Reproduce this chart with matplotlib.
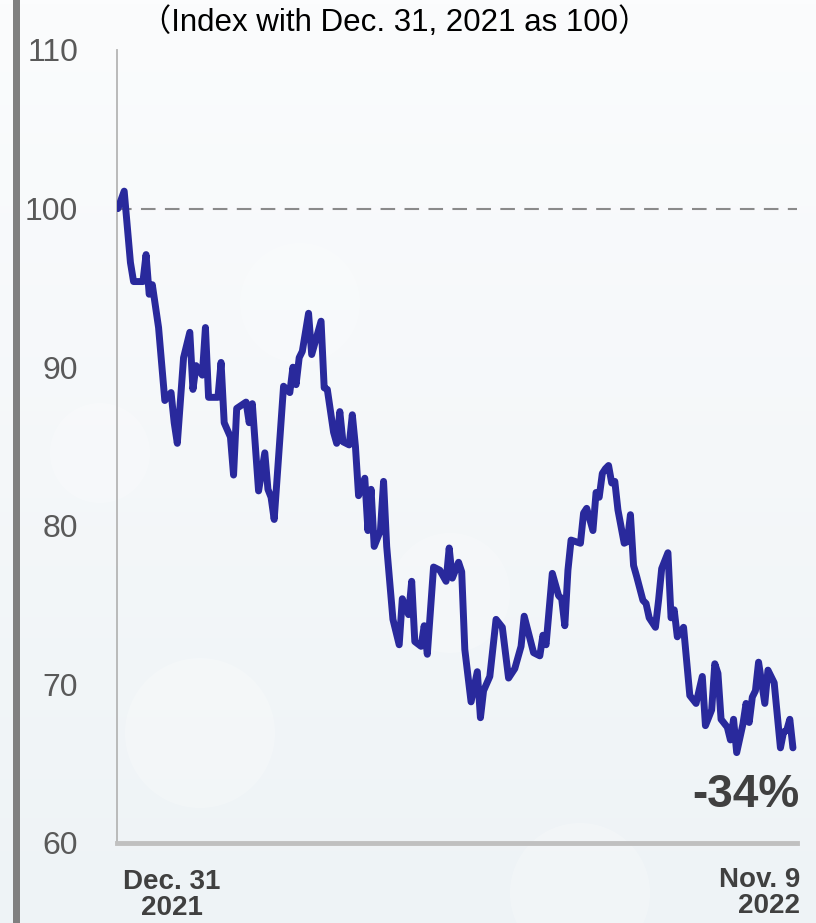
import matplotlib
matplotlib.use("Agg")
import matplotlib.pyplot as plt
import numpy as np
from matplotlib.patches import Circle

# trading days since Dec. 31, 2021 and index value (Dec. 31, 2021 = 100)
days = [0, 2, 4, 5, 8, 9, 10, 11, 13, 15, 17, 18, 19, 21, 23, 24, 25, 27, 28, 29,
        32, 33, 34, 36, 37, 38, 41, 42, 43, 45, 47, 48, 49, 50, 52, 53, 55, 56, 57, 58,
        59, 61, 62, 65, 66, 67, 69, 70, 71, 72, 74, 75, 76, 77, 79, 80, 81, 82, 84, 85,
        86, 88, 90, 91, 93, 94, 95, 97, 98, 99, 101, 103, 105, 106, 107, 109, 110, 111, 113, 115,
        116, 117, 119, 121, 123, 125, 127, 129, 130, 133, 135, 136, 137, 139, 141, 142, 143, 144, 145, 148,
        149, 150, 152, 153, 154, 155, 156, 157, 158, 159, 160, 162, 163, 164, 165, 166, 168, 169, 170, 172,
        173, 174, 176, 177, 178, 179, 181, 183, 185, 187, 188, 190, 191, 192, 193, 195, 196, 197, 198, 200,
        201, 202, 203, 204, 205, 207, 208, 209, 210, 212, 213, 214, 215, 216]
index_value = [100.0, 101.1, 96.6, 95.4, 95.4, 97.1, 94.6, 95.2, 92.5, 87.9, 88.4, 86.5, 85.2, 90.6, 92.2, 88.6, 90.1, 89.5, 92.5, 88.1,
               88.1, 90.3, 86.5, 85.6, 83.2, 87.4, 87.8, 86.5, 87.7, 82.2, 84.6, 82.3, 81.8, 80.4, 86.0, 88.8, 88.4, 90.0, 88.9, 90.6,
               91.0, 93.4, 90.8, 92.9, 88.7, 88.6, 85.9, 85.2, 87.2, 85.3, 85.1, 87.0, 85.0, 81.9, 83.0, 79.7, 82.3, 78.7, 79.7, 82.8,
               78.7, 74.1, 72.5, 75.4, 74.4, 76.5, 72.7, 72.4, 73.7, 71.9, 77.4, 77.2, 76.5, 78.6, 76.7, 77.7, 77.1, 72.2, 68.9, 70.8,
               67.9, 69.6, 70.5, 74.1, 73.6, 70.4, 71.0, 72.4, 74.3, 72.0, 71.8, 73.1, 72.5, 77.0, 75.6, 75.4, 73.7, 77.2, 79.1, 78.9,
               80.8, 81.1, 79.7, 82.1, 81.8, 83.3, 83.6, 83.8, 82.7, 82.8, 81.0, 78.9, 79.0, 80.7, 77.5, 76.8, 75.3, 75.1, 74.2, 73.6,
               75.3, 77.3, 78.3, 74.2, 74.7, 73.0, 73.6, 69.3, 68.8, 70.5, 67.4, 68.4, 71.3, 70.7, 67.8, 67.3, 66.5, 67.8, 65.7, 67.5,
               68.8, 67.6, 69.2, 69.6, 71.4, 68.8, 70.9, 70.5, 70.1, 66.0, 67.0, 67.1, 67.8, 66.0]

y_ticks = [60, 70, 80, 90, 100, 110]
title_text = "（Index with Dec. 31, 2021 as 100）"
start_label = "Dec. 31\n2021"
end_label = "Nov. 9\n2022"
change_label = "-34%"

plt.rcParams['font.family'] = ['Liberation Sans', 'Noto Sans CJK JP', 'DejaVu Sans']

fig = plt.figure(figsize=(8.16, 9.23), dpi=100)

# light background with soft gradient, drawn in pixel units
bg = fig.add_axes([0, 0, 1, 1], zorder=-10)
grad = np.linspace(0, 1, 256).reshape(-1, 1)
bg.imshow(grad, aspect='auto', extent=[0, 816, 0, 923], origin='upper',
          cmap=matplotlib.colors.LinearSegmentedColormap.from_list('bg', ['#fbfcfd', '#eef3f6']))
for cx, cy, r in [(200, 190, 75), (580, 30, 70), (100, 470, 50), (450, 330, 60), (300, 620, 60)]:
    bg.add_patch(Circle((cx, cy), r, color='white', alpha=0.22, lw=0))
bg.set_xlim(0, 816)
bg.set_ylim(0, 923)
bg.axis('off')
# grey bar at the left edge
bg.add_patch(plt.Rectangle((13, 0), 7, 923, color='#808080', lw=0))

ax = fig.add_axes([117 / 816, 80 / 923, 680 / 816, 793 / 923])
ax.patch.set_alpha(0)

ax.axhline(100, color='#8a8a8a', lw=1.5, dashes=(7, 4.5), zorder=1)
ax.plot(days, index_value, color='#29299c', lw=5.0, solid_joinstyle='round',
        solid_capstyle='round', zorder=3)

ax.set_xlim(-0.3, 217.3)
ax.set_ylim(60, 110)
ax.set_yticks(y_ticks)
ax.set_yticklabels([str(v) for v in y_ticks], fontsize=23, color='#595959')
ax.tick_params(axis='y', length=0, pad=28)
ax.set_xticks([])

for side in ['top', 'right']:
    ax.spines[side].set_visible(False)
ax.spines['left'].set_color('#b5b5b5')
ax.spines['left'].set_linewidth(1.3)
ax.spines['bottom'].set_color('#c0c0c0')
ax.spines['bottom'].set_linewidth(3.5)

fig.text(395 / 816, 1 - 23 / 923, title_text, fontsize=22.5, color='black',
         ha='center', va='center')

ax.text(1.004, 0.06, change_label, transform=ax.transAxes, fontsize=33,
        fontweight='bold', color='#404040', ha='right', va='center')

fig.text(172 / 816, 1 - 895 / 923, start_label, fontsize=20, fontweight='bold',
         color='#404040', ha='center', va='center', linespacing=1.0, multialignment='center')
fig.text(800 / 816, 1 - 893 / 923, end_label, fontsize=20, fontweight='bold',
         color='#404040', ha='right', va='center', linespacing=1.0, multialignment='right')

fig.savefig('out.png', dpi=100)
